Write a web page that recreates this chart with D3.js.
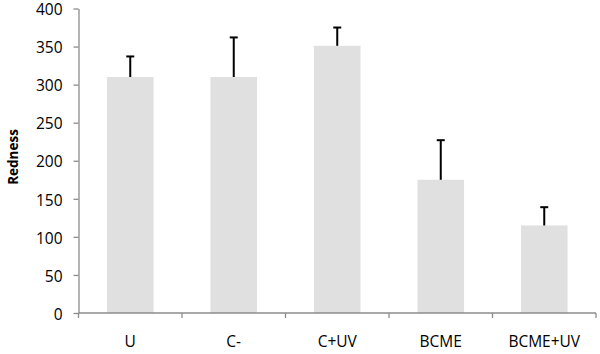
<!DOCTYPE html>
<html>
<head>
<meta charset="utf-8">
<script src="https://cdn.jsdelivr.net/npm/d3@7"></script>
<style>
  body { margin: 0; background: #fff; }
  svg text { font-family: "Open Sans", "Liberation Sans", sans-serif; fill: #000; }
</style>
</head>
<body>
<div id="chart"></div>
<script>
var categories = ['U', 'C-', 'C+UV', 'BCME', 'BCME+UV'];
var values = [310, 310, 351, 175, 115];
var errors = [27, 52, 24, 52, 24];
var yTicks = [0, 50, 100, 150, 200, 250, 300, 350, 400];

var width = 600, height = 354;
var margin = {top: 8.5, right: 4, bottom: 41, left: 78.5};

var svg = d3.select('#chart').append('svg')
    .attr('width', width)
    .attr('height', height);

var x = d3.scaleBand()
    .domain(categories)
    .range([margin.left, width - margin.right])
    .paddingInner(0.55)
    .paddingOuter(0.275);

var y = d3.scaleLinear()
    .domain([0, 400])
    .range([height - margin.bottom, margin.top]);

// bars
svg.selectAll('rect.bar')
    .data(categories)
    .enter().append('rect')
    .attr('class', 'bar')
    .attr('x', function(d) { return x(d); })
    .attr('width', x.bandwidth())
    .attr('y', function(d, i) { return y(values[i]); })
    .attr('height', function(d, i) { return y(0) - y(values[i]); })
    .attr('fill', '#e0e0e0');

// error bars (upper only)
var eb = svg.selectAll('g.err')
    .data(categories)
    .enter().append('g')
    .attr('class', 'err');

eb.append('line')
    .attr('x1', function(d) { return x(d) + x.bandwidth() / 2; })
    .attr('x2', function(d) { return x(d) + x.bandwidth() / 2; })
    .attr('y1', function(d, i) { return y(values[i]); })
    .attr('y2', function(d, i) { return y(values[i] + errors[i]); })
    .attr('stroke', '#000')
    .attr('stroke-width', 2);

eb.append('line')
    .attr('x1', function(d) { return x(d) + x.bandwidth() / 2 - 4; })
    .attr('x2', function(d) { return x(d) + x.bandwidth() / 2 + 4; })
    .attr('y1', function(d, i) { return y(values[i] + errors[i]); })
    .attr('y2', function(d, i) { return y(values[i] + errors[i]); })
    .attr('stroke', '#000')
    .attr('stroke-width', 2);

// y axis
var yAxis = svg.append('g')
    .attr('transform', 'translate(' + margin.left + ',0)')
    .call(d3.axisLeft(y).tickValues(yTicks).tickSize(5).tickPadding(11).tickSizeOuter(0));
yAxis.select('.domain').attr('stroke', '#8c8c8c').attr('stroke-width', 1.3);
yAxis.selectAll('.tick line').attr('stroke', '#8c8c8c').attr('stroke-width', 1.3);
yAxis.selectAll('.tick text').style('font-size', '15.5px').attr('dy', '0.4em');

// x axis (ticks on band boundaries)
var xAxisG = svg.append('g')
    .attr('transform', 'translate(0,' + y(0) + ')');
xAxisG.append('line')
    .attr('x1', x.range()[0]).attr('x2', x.range()[1])
    .attr('stroke', '#8c8c8c').attr('stroke-width', 1.3);
var step = x.step();
var bounds = d3.range(categories.length + 1).map(function(i) { return x.range()[0] + i * step; });
xAxisG.selectAll('line.tk')
    .data(bounds)
    .enter().append('line')
    .attr('class', 'tk')
    .attr('x1', function(d) { return d; })
    .attr('x2', function(d) { return d; })
    .attr('y1', 0).attr('y2', 5)
    .attr('stroke', '#8c8c8c').attr('stroke-width', 1.3);
xAxisG.selectAll('text')
    .data(categories)
    .enter().append('text')
    .attr('x', function(d) { return x(d) + x.bandwidth() / 2; })
    .attr('y', 34)
    .attr('text-anchor', 'middle')
    .style('font-size', '15.5px')
    .text(function(d) { return d; });

// y label
svg.append('text')
    .attr('transform', 'translate(18,157) rotate(-90)')
    .attr('text-anchor', 'middle')
    .style('font-size', '13.5px')
    .style('font-weight', 'bold')
    .text('Redness');
</script>
</body>
</html>
